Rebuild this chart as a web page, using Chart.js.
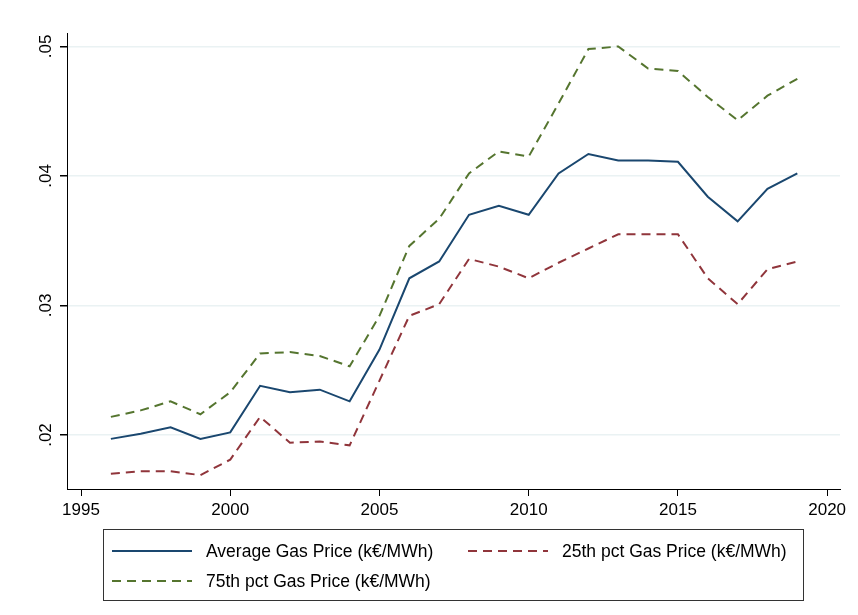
<!DOCTYPE html>
<html>
<head>
<meta charset="utf-8">
<script src="https://cdn.jsdelivr.net/npm/chart.js@4.4.1/dist/chart.umd.min.js"></script>
<style>
  html, body { margin: 0; padding: 0; background: #fff; }
  #chart { display: block; }
</style>
</head>
<body>
<canvas id="chart" width="858" height="615"></canvas>
<script>
// values
const years = [1996, 1997, 1998, 1999, 2000, 2001, 2002, 2003, 2004, 2005, 2006, 2007,
  2008, 2009, 2010, 2011, 2012, 2013, 2014, 2015, 2016, 2017, 2018, 2019];
const avgPrice = [0.0197, 0.0201, 0.0206, 0.0197, 0.0202, 0.0238, 0.0233, 0.0235, 0.0226, 0.0266, 0.0321, 0.0334,
  0.0370, 0.0377, 0.0370, 0.0402, 0.0417, 0.0412, 0.0412, 0.0411, 0.0384, 0.0365, 0.0390, 0.0402];
const p25Price = [0.0170, 0.0172, 0.0172, 0.0169, 0.0181, 0.0214, 0.0194, 0.0195, 0.0192, 0.0242, 0.0292, 0.0301,
  0.0336, 0.0330, 0.0321, 0.0333, 0.0344, 0.0355, 0.0355, 0.0355, 0.0321, 0.0301, 0.0328, 0.0334];
const p75Price = [0.0214, 0.0219, 0.0226, 0.0216, 0.0233, 0.0263, 0.0264, 0.0261, 0.0253, 0.0292, 0.0346, 0.0367,
  0.0402, 0.0419, 0.0415, 0.0456, 0.0498, 0.0500, 0.0483, 0.0481, 0.0461, 0.0443, 0.0462, 0.0475];
const seriesNames = ["Average Gas Price (k€/MWh)", "25th pct Gas Price (k€/MWh)", "75th pct Gas Price (k€/MWh)"];
const yTickLabels = [".02", ".03", ".04", ".05"];

const FONT = "'Liberation Sans', Arial, sans-serif";

function pts(vals) {
  return years.map((y, i) => ({ x: y, y: vals[i] }));
}

// rotated y labels (stata style)
const yLabelsPlugin = {
  id: "yLabels",
  afterDraw(chart) {
    const ctx = chart.ctx;
    const ys = chart.scales.y;
    ctx.save();
    ctx.fillStyle = "#000";
    ctx.font = "17px " + FONT;
    ctx.textAlign = "center";
    ctx.textBaseline = "middle";
    yTickLabels.forEach(function (lab) {
      const v = parseFloat(lab);
      const py = ys.getPixelForValue(v);
      ctx.save();
      ctx.translate(46, py);
      ctx.rotate(-Math.PI / 2);
      ctx.fillText(lab, 0, 0);
      ctx.restore();
    });
    ctx.restore();
  }
};

// boxed legend under the plot, two columns
const boxLegend = {
  id: "boxLegend",
  afterDraw(chart) {
    const ctx = chart.ctx;
    const ds = chart.data.datasets;
    const left = 103, top = 529, w = 700, h = 71;
    ctx.save();
    ctx.strokeStyle = "#333";
    ctx.lineWidth = 1;
    ctx.strokeRect(left + 0.5, top + 0.5, w, h);
    const slots = [
      { x: 112, y: 551 },
      { x: 468, y: 551 },
      { x: 112, y: 581 }
    ];
    ctx.font = "17.5px " + FONT;
    ctx.textBaseline = "middle";
    ctx.fillStyle = "#000";
    ds.forEach(function (d, i) {
      const s = slots[i];
      ctx.beginPath();
      ctx.setLineDash(d.borderDash || []);
      ctx.strokeStyle = d.borderColor;
      ctx.lineWidth = d.borderWidth;
      ctx.moveTo(s.x, s.y);
      ctx.lineTo(s.x + 80, s.y);
      ctx.stroke();
      ctx.setLineDash([]);
      ctx.fillText(d.label, s.x + 94, s.y + 1);
    });
    ctx.restore();
  }
};

new Chart(document.getElementById("chart"), {
  type: "line",
  data: {
    datasets: [
      { label: seriesNames[0], data: pts(avgPrice), borderColor: "#1a476f", borderWidth: 2, pointRadius: 0, tension: 0 },
      { label: seriesNames[1], data: pts(p25Price), borderColor: "#90353b", borderWidth: 2, borderDash: [9, 6], pointRadius: 0, tension: 0 },
      { label: seriesNames[2], data: pts(p75Price), borderColor: "#55752f", borderWidth: 2, borderDash: [9, 6], pointRadius: 0, tension: 0 }
    ]
  },
  options: {
    responsive: false,
    animation: false,
    devicePixelRatio: 1,
    layout: { padding: { left: 0, right: 18, top: 33, bottom: 100 } },
    plugins: { legend: { display: false }, tooltip: { enabled: false } },
    scales: {
      x: {
        type: "linear",
        min: 1994.53,
        max: 2020.43,
        afterFit(s) { s.height = 26; },
        ticks: {
          stepSize: 5, includeBounds: false, color: "#000", font: { family: FONT, size: 17 }, padding: 4, maxRotation: 0,
          callback: function (v) { return String(v); }
        },
        grid: { drawOnChartArea: false, drawTicks: true, tickLength: 7, tickColor: "#000", color: "#000" },
        border: { display: true, color: "#000", width: 1 }
      },
      y: {
        min: 0.01583,
        max: 0.05104,
        afterFit(s) { s.width = 67; },
        ticks: { stepSize: 0.01, includeBounds: false, display: false },
        grid: { color: "#eaf2f3", lineWidth: 1.5, drawTicks: true, tickLength: 7, tickColor: "#000" },
        border: { display: true, color: "#000", width: 1 }
      }
    }
  },
  plugins: [yLabelsPlugin, boxLegend]
});
</script>
</body>
</html>
